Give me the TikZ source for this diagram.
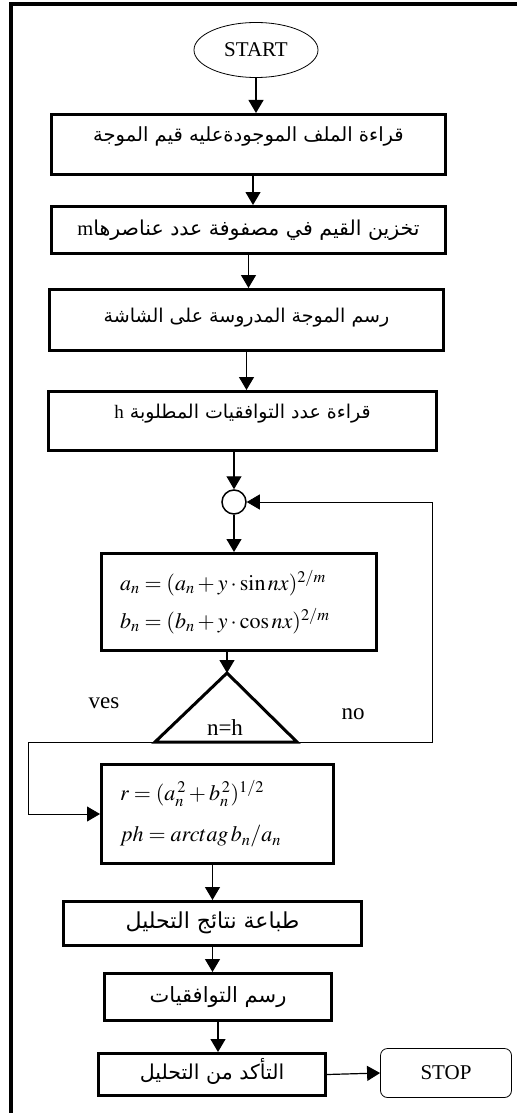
\documentclass[tikz,border=0pt]{standalone}
\usepackage{mathptmx}
\usepackage{fontspec}
\setmainfont{Liberation Serif}
\newfontfamily\arabicfont[Script=Arabic]{DejaVu Sans}
\TeXXeTstate=1
\usetikzlibrary{arrows.meta,shapes.geometric}
\newcommand{\afs}[1]{\fontsize{#1}{#1}\selectfont}
\begin{document}
\begin{tikzpicture}[x=1pt,y=-1pt,
  box/.style={draw, line width=3pt, inner sep=0pt, align=center,
    font=\arabicfont, text height=10pt, text depth=#1},
  box/.default=0pt,
  mbox/.style={draw, line width=3pt, inner xsep=18.5pt, inner ysep=0pt, align=left,
    font=\fontsize{22}{26}\selectfont},
  lbl/.style={font=\fontsize{23}{26}\selectfont, inner sep=0pt},
  arr/.style={-{Triangle[width=15pt,length=13pt]}, line width=1.2pt},
  thinarr/.style={-{Triangle[width=15pt,length=13pt]}, line width=0.8pt},
  term/.style={draw, line width=0.8pt, inner sep=0pt}
]
\useasboundingbox (0,0) rectangle (517,1113);
% frame
\draw[line width=4pt] (11,1113) -- (11,4) -- (517,4);

\node[term, ellipse, minimum width=124pt, minimum height=55pt,
  font=\fontsize{21}{24}\selectfont] (start) at (256,50) {START};

\node[box=15pt, minimum width=394pt, minimum height=60pt] (b1) at (248.5,144.5)
  {\afs{19.5}\beginR قراءة الملف الموجودةعليه قيم الموجة\endR};
\node[box, minimum width=394pt, minimum height=47pt] (b2) at (248.5,230)
  {\afs{20.5}\beginR تخزين القيم في  مصفوفة عدد  عناصرها\beginL{\rmfamily m}\endL\endR};
\node[box=6pt, minimum width=394pt, minimum height=61pt] (b3) at (246.5,320)
  {\afs{19}\beginR رسم الموجة المدروسة على الشاشة\endR};
\node[box=16pt, minimum width=388pt, minimum height=59pt] (b4) at (242.5,421)
  {\afs{19}\beginR قراءة عدد التوافقيات  المطلوبة \beginL{\rmfamily h}\endL\endR};

\node[draw, circle, line width=1.5pt, minimum size=24pt, inner sep=0pt] (circ) at (234,502) {};

\node[mbox, minimum width=275pt, minimum height=97pt, text width=238pt] (b5) at (239,602)
  {$a_n = (a_n + y\cdot\sin nx)^{2/m}$\\[12pt]
   $b_n = (b_n + y\cdot\cos nx)^{2/m}$};

% decision triangle
\coordinate (tA) at (227,673);
\coordinate (tL) at (155,742);
\coordinate (tR) at (297,742);
\draw[line width=3pt, line join=miter] (tA) -- (tR) -- (tL) -- cycle;
\node[lbl] (cond) at (225,728) {n=h};
\node[lbl] (yes) at (104,703) {ves};
\node[lbl] (no) at (353,714) {no};

\node[mbox, minimum width=232pt, minimum height=99pt, text width=195pt] (b6) at (217.5,814)
  {$r = (a_n^{\,2} + b_n^{\,2})^{1/2}$\\[15pt]
   $ph = arctag\, b_n/a_n$};

\node[box, minimum width=298pt, minimum height=44pt] (b7) at (212.5,923.5)
  {\afs{22}\beginR طباعة نتائج  التحليل\endR};
\node[box, minimum width=227pt, minimum height=47pt] (b8) at (218,997)
  {\afs{21}\beginR رسم التوافقيات\endR};
\node[box, minimum width=227pt, minimum height=42pt] (b9) at (212,1074.5)
  {\afs{20.5}\beginR التأكد من التحليل\endR};

\node[term, rounded corners=7pt, minimum width=131pt, minimum height=49pt,
  font=\fontsize{21}{24}\selectfont] (stop) at (446,1073) {STOP};

% connectors
\draw[arr] (start.south) -- (start.south |- b1.north);
\draw[arr] ([xshift=4.5pt]b1.south) -- ([xshift=4.5pt]b1.south |- b2.north);
\draw[arr] (b2.south) -- (b2.south |- b3.north);
\draw[arr] (b3.south) -- (b3.south |- b4.north);
\draw[arr] (circ.north |- b4.south) -- (circ.north);
\draw[arr] (circ.south) -- (circ.south |- b5.north);
\draw[arr] (tA |- b5.south) -- (tA);
\coordinate (nocorner) at (432,742);
\draw[thinarr] (tR) -- (nocorner) |- (circ.east);
\coordinate (yescorner) at (28,742);
\draw[thinarr] (tL) -- (yescorner) |- (b6.west);
\draw[arr] (b7.north |- b6.south) -- (b7.north);
\draw[arr] (b7.south) -- (b7.south |- b8.north);
\draw[arr] (b8.south) -- (b8.south |- b9.north);
\draw[arr] (b9.east) -- (stop.west);
\end{tikzpicture}
\end{document}
